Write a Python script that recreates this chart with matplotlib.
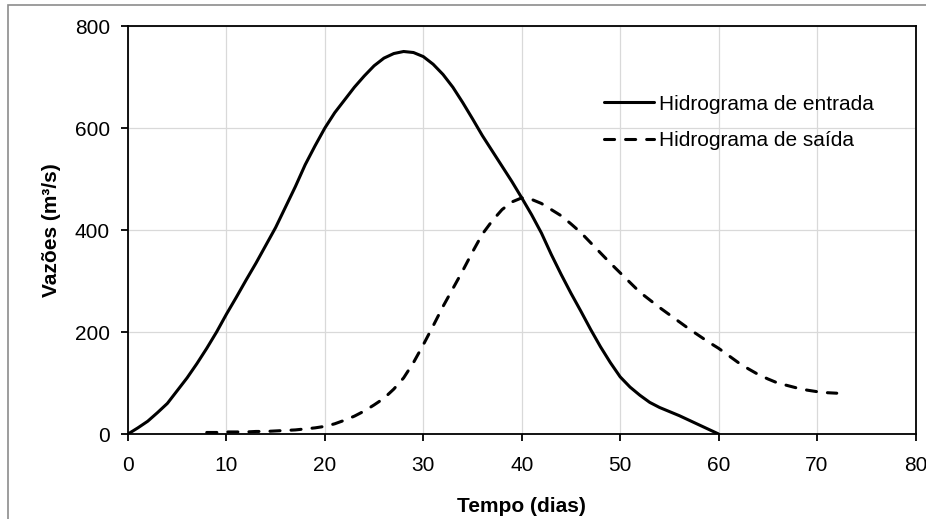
import matplotlib.pyplot as plt
from matplotlib.patches import Rectangle

# inflow hydrograph (days, m3/s)
t_in = list(range(0, 61))
q_in = [0, 12, 25, 42, 60, 85, 110, 138, 168, 200,
        235, 268, 302, 335, 370, 405, 445, 485, 528, 565,
        600, 630, 655, 680, 702, 722, 737, 746, 750, 748,
        740, 725, 705, 680, 650, 618, 585, 555, 525, 495,
        463, 430, 394, 352, 313, 276, 241, 205, 171, 140,
        112, 92, 76, 62, 52, 44, 36, 27, 18, 9, 0]

# outflow hydrograph
t_out = list(range(8, 73))
q_out = [3, 3, 4, 4, 4, 5, 5, 6, 7, 8, 10, 12,
         15, 20, 27, 35, 45, 57, 70, 88, 110, 140,
         175, 212, 250, 285, 320, 357, 392, 418, 440, 455,
         463, 460, 452, 440, 428, 412, 395, 375, 355, 335,
         316, 297, 278, 263, 248, 234, 220, 206, 193, 180,
         168, 154, 140, 128, 117, 108, 100, 95, 90, 86,
         83, 81, 80]

labels = ["Hidrograma de entrada", "Hidrograma de saída"]

plt.rcParams['font.family'] = ['Liberation Sans', 'DejaVu Sans']
fs = 15

fig = plt.figure(figsize=(9.26, 5.19), dpi=100)
ax = fig.add_axes([128 / 926, 1 - 434 / 519, 787.5 / 926, 408 / 519])

ax.plot(t_in, q_in, color='black', lw=2.2, label=labels[0], solid_capstyle='round')
ax.plot(t_out, q_out, color='black', lw=2.2, linestyle=(0, (3.3, 3.6)),
        label=labels[1], dash_capstyle='round')

ax.set_xlim(0, 80)
ax.set_ylim(0, 800)
ax.set_xticks(range(0, 81, 10))
ax.set_yticks(range(0, 801, 200))
ax.grid(True, color='#d9d9d9', lw=0.9)
ax.set_axisbelow(True)

for s in ax.spines.values():
    s.set_linewidth(1.3)
    s.set_color('black')

ax.tick_params(direction='out', length=5, width=1.3, labelsize=fs, colors='black')
ax.tick_params(axis='x', pad=11)
ax.tick_params(axis='y', pad=8)

ax.set_xlabel("Tempo (dias)", fontsize=fs, fontweight='bold', labelpad=16)
ax.set_ylabel("Vazões (m³/s)", fontsize=fs, fontweight='bold', labelpad=10)

ax.legend(loc='upper left', bbox_to_anchor=(0.58, 0.878), frameon=False,
          fontsize=fs, handlelength=2.4, handletextpad=0.25, labelspacing=0.85)

# outer chart-area border (left and top visible in the original)
fig.patches.append(Rectangle((8 / 926, -0.2), 1.2, 1 - 5 / 519 + 0.2,
                             transform=fig.transFigure, fill=False,
                             edgecolor='#8c8c8c', lw=1.2, clip_on=False))

fig.savefig("out.png", dpi=100)
